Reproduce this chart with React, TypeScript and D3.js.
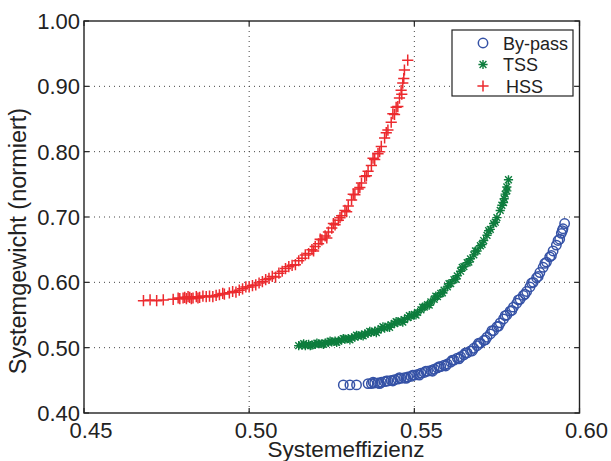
import React from 'react';
import * as d3 from 'd3';

// Systemeffizienz / Systemgewicht
const byPassEff = [0.5285,0.5305,0.5325,0.536,0.537,0.538,0.539,0.540,0.541,0.542,0.543,0.544,0.545,0.546,0.547,0.548,0.549,0.550,0.551,0.552,0.553,0.554,0.555,0.556,0.557,0.558,0.559,0.560,0.561,0.562,0.563,0.564,0.565,0.566,0.567,0.568,0.569,0.570,0.571,0.572,0.573,0.574,0.575,0.576,0.577,0.578,0.579,0.580,0.581,0.582,0.583,0.584,0.585,0.586,0.587,0.588,0.589,0.590,0.591,0.592,0.593,0.594,0.5945,0.595,0.5955,
  0.5375,0.5395,0.5415,0.5435,0.5455,0.5475,0.5495,0.5515,0.5535,0.5555,0.5575,0.5595,0.5615,0.5635,0.5655,0.5675,0.5695,0.5715,0.5735,0.5755,0.5775,0.5795,0.5815,0.5835,0.5855,0.5875,0.5895,0.5915,0.5935,0.5948];
const byPassWeight = [0.443,0.443,0.443,0.445,0.445,0.446,0.446,0.447,0.448,0.449,0.450,0.451,0.452,0.453,0.454,0.455,0.456,0.458,0.459,0.461,0.462,0.464,0.465,0.467,0.469,0.471,0.473,0.475,0.478,0.481,0.484,0.486,0.489,0.492,0.495,0.499,0.503,0.507,0.511,0.516,0.521,0.526,0.532,0.538,0.544,0.550,0.556,0.562,0.568,0.574,0.580,0.586,0.593,0.600,0.607,0.615,0.623,0.631,0.639,0.648,0.657,0.666,0.675,0.682,0.690,
  0.447,0.445,0.449,0.449,0.454,0.453,0.458,0.458,0.464,0.464,0.471,0.472,0.481,0.483,0.492,0.495,0.507,0.512,0.526,0.533,0.549,0.557,0.573,0.582,0.599,0.609,0.629,0.641,0.664,0.679];

const tssEff = [0.515,0.516,0.517,0.518,0.519,0.520,0.521,0.522,0.523,0.524,0.525,0.526,0.527,0.528,0.529,0.530,0.531,0.532,0.533,0.534,0.535,0.536,0.537,0.538,0.539,0.540,0.541,0.542,0.543,0.544,0.545,0.546,0.547,0.548,0.549,0.550,0.551,0.552,0.553,0.554,0.555,0.556,0.557,0.558,0.559,0.560,0.561,0.562,0.563,0.564,0.565,0.566,0.567,0.568,0.569,0.570,0.571,0.572,0.573,0.574,0.575,0.576,0.577,0.5775,0.578,0.5785,
  0.5165,0.5185,0.5205,0.5225,0.5245,0.5265,0.5285,0.5305,0.5325,0.5345,0.5365,0.5385,0.5405,0.5425,0.5445,0.5465,0.5485,0.5505,0.5525,0.5545,0.5565,0.5585,0.5605,0.5625,0.5645,0.5665,0.5685,0.5705,0.5725,0.5745,0.5765,0.5772,0.578];
const tssWeight = [0.503,0.504,0.503,0.505,0.504,0.505,0.506,0.506,0.507,0.508,0.509,0.510,0.510,0.512,0.513,0.514,0.515,0.516,0.518,0.519,0.521,0.522,0.524,0.525,0.527,0.529,0.530,0.533,0.535,0.537,0.539,0.541,0.543,0.546,0.548,0.551,0.554,0.558,0.562,0.566,0.570,0.574,0.578,0.583,0.588,0.593,0.598,0.604,0.610,0.617,0.624,0.630,0.636,0.642,0.648,0.656,0.664,0.672,0.681,0.690,0.699,0.710,0.722,0.735,0.746,0.757,
  0.506,0.503,0.507,0.505,0.510,0.508,0.514,0.512,0.519,0.518,0.525,0.523,0.532,0.531,0.540,0.539,0.549,0.550,0.562,0.565,0.579,0.584,0.598,0.605,0.623,0.631,0.648,0.658,0.679,0.692,0.718,0.728,0.740];

const hssEff = [0.468,0.470,0.472,0.474,0.477,0.479,0.480,0.481,0.482,0.483,0.484,0.485,0.487,0.488,0.490,0.491,0.492,0.494,0.495,0.497,0.498,0.500,0.501,0.503,0.504,0.506,0.507,0.509,0.510,0.512,0.513,0.515,0.516,0.518,0.519,0.520,0.521,0.522,0.523,0.524,0.525,0.526,0.527,0.528,0.529,0.530,0.531,0.532,0.533,0.534,0.535,0.536,0.537,0.538,0.539,0.540,0.541,0.542,0.543,0.544,0.545,0.546,0.5465,0.547,0.548,
  0.4785,0.4805,0.4815,0.4825,0.4845,0.486,0.489,0.4925,0.496,0.499,0.502,0.505,0.508,0.511,0.514,0.517,0.5195,0.5215,0.5235,0.5255,0.5275,0.5295,0.5315,0.5335,0.5355,0.5375,0.5395,0.5415,0.5435,0.5445,0.5455,0.5462,0.5468];
const hssWeight = [0.572,0.573,0.572,0.573,0.574,0.575,0.576,0.575,0.577,0.576,0.578,0.577,0.578,0.579,0.580,0.581,0.583,0.584,0.586,0.588,0.590,0.593,0.595,0.599,0.601,0.606,0.609,0.614,0.617,0.624,0.626,0.633,0.637,0.644,0.650,0.655,0.659,0.665,0.671,0.677,0.683,0.688,0.695,0.702,0.710,0.717,0.726,0.734,0.743,0.752,0.762,0.770,0.779,0.788,0.797,0.808,0.821,0.833,0.845,0.857,0.869,0.894,0.905,0.925,0.940,
  0.576,0.577,0.578,0.575,0.576,0.579,0.578,0.582,0.585,0.593,0.596,0.604,0.608,0.621,0.627,0.642,0.648,0.666,0.668,0.690,0.699,0.708,0.735,0.745,0.763,0.790,0.800,0.829,0.858,0.868,0.882,0.888,0.912];

const xTicks = [0.45, 0.50, 0.55, 0.60];
const yTicks = [0.40, 0.50, 0.60, 0.70, 0.80, 0.90, 1.00];
const legendNames = ['By-pass', 'TSS', 'HSS'];

const BLUE = '#3552a6';
const GREEN = '#0d7d3d';
const RED = '#ec2a2e';
const FONT = '"Liberation Sans", Arial, Helvetica, sans-serif';

const left = 84, right = 579.5, top = 21, bottom = 413;

function Circle({ x, y }) {
  return <circle cx={x} cy={y} r={4.7} fill="none" stroke={BLUE} strokeWidth={1.5} />;
}
function Star({ x, y }) {
  const s = 4.6, d = 3.4;
  return (
    <path
      d={`M${x - s},${y}H${x + s}M${x},${y - s}V${y + s}M${x - d},${y - d}L${x + d},${y + d}M${x - d},${y + d}L${x + d},${y - d}`}
      stroke={GREEN} strokeWidth={1.4} fill="none" />
  );
}
function Plus({ x, y }) {
  const s = 5.6;
  return (
    <path d={`M${x - s},${y}H${x + s}M${x},${y - s}V${y + s}`}
      stroke={RED} strokeWidth={1.5} fill="none" />
  );
}

export default function App() {
  const x = d3.scaleLinear().domain([0.45, 0.60]).range([left, right]);
  const y = d3.scaleLinear().domain([0.40, 1.00]).range([bottom, top]);
  const fmt = d3.format('.2f');

  const legendMarkers = [Circle, Star, Plus];

  return (
    <div style={{ position: 'absolute', left: 0, top: 0 }}>
      <svg width={611} height={461} style={{ display: 'block', background: '#fff' }} fontFamily={FONT}>
        <rect x={left} y={top} width={right - left} height={bottom - top} fill="#fff" />
        {/* grid */}
        {xTicks.slice(1, -1).map(t => (
          <line key={'gx' + t} x1={x(t)} x2={x(t)} y1={top} y2={bottom}
            stroke="#444" strokeWidth={1} strokeDasharray="1,4" />
        ))}
        {yTicks.slice(1, -1).map(t => (
          <line key={'gy' + t} x1={left} x2={right} y1={y(t)} y2={y(t)}
            stroke="#444" strokeWidth={1} strokeDasharray="1,4" />
        ))}

        {/* data */}
        {hssEff.map((v, i) => <Plus key={'h' + i} x={x(v)} y={y(hssWeight[i])} />)}
        {tssEff.map((v, i) => <Star key={'t' + i} x={x(v)} y={y(tssWeight[i])} />)}
        {byPassEff.map((v, i) => <Circle key={'b' + i} x={x(v)} y={y(byPassWeight[i])} />)}

        {/* ticks */}
        {xTicks.map(t => (
          <g key={'tx' + t}>
            <line x1={x(t)} x2={x(t)} y1={bottom} y2={bottom - 5} stroke="#222" strokeWidth={1.2} />
            <line x1={x(t)} x2={x(t)} y1={top} y2={top + 5} stroke="#222" strokeWidth={1.2} />
            <text x={x(t) + 7} y={438} textAnchor="middle" fontSize={22} fill="#222">{fmt(t)}</text>
          </g>
        ))}
        {yTicks.map(t => (
          <g key={'ty' + t}>
            <line x1={left} x2={left + 5} y1={y(t)} y2={y(t)} stroke="#222" strokeWidth={1.2} />
            <line x1={right} x2={right - 5} y1={y(t)} y2={y(t)} stroke="#222" strokeWidth={1.2} />
            <text x={80} y={y(t) + 8} textAnchor="end" fontSize={22} fill="#222">{fmt(t)}</text>
          </g>
        ))}

        <rect x={left} y={top} width={right - left} height={bottom - top} fill="none" stroke="#222" strokeWidth={1.4} />

        {/* axis titles */}
        <text x={346} y={457} textAnchor="middle" fontSize={22.5} fill="#222">Systemeffizienz</text>
        <text transform="translate(25.5,241) rotate(-90)" textAnchor="middle" fontSize={23.5} fill="#222">
          Systemgewicht (normiert)
        </text>

        {/* legend */}
        <rect x={452} y={30} width={121} height={66} fill="#fff" stroke="#222" strokeWidth={1.2} />
        {legendNames.map((name, i) => {
          const M = legendMarkers[i];
          const cy = 43 + i * 21.5;
          return (
            <g key={name}>
              <M x={483} y={cy} />
              <text x={i === 2 ? 506 : 503} y={cy + 6.5} fontSize={18} fill="#222">{name}</text>
            </g>
          );
        })}
      </svg>
    </div>
  );
}
